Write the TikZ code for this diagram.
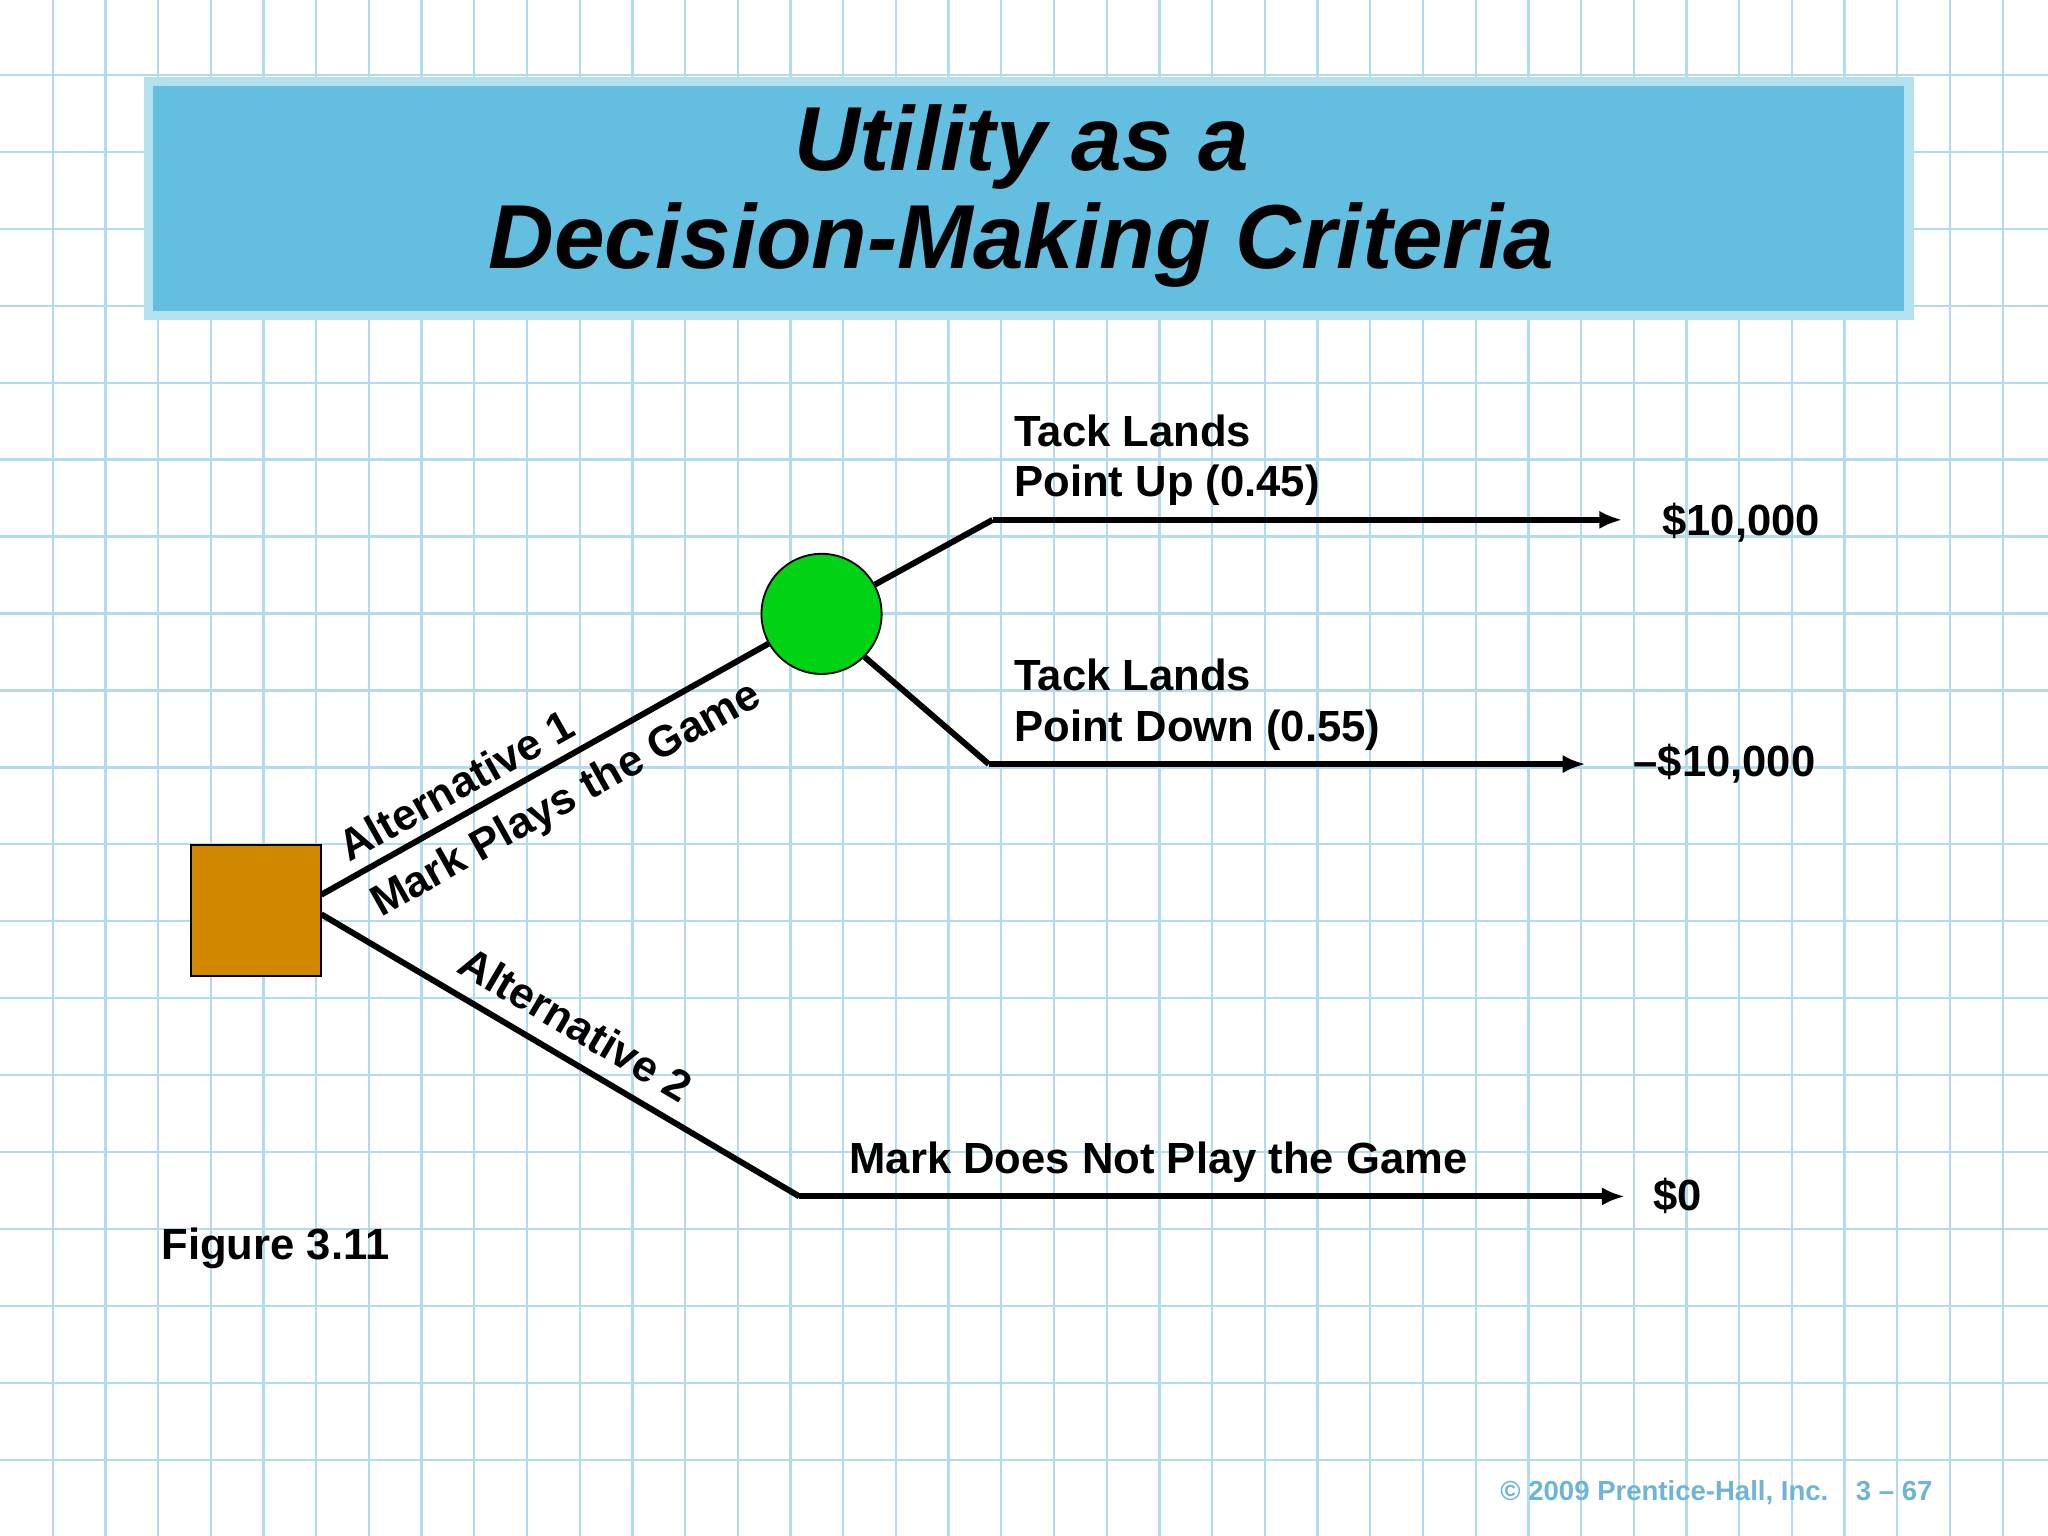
\documentclass[tikz,border=0pt]{standalone}
\usepackage{fontspec}
\setmainfont{Liberation Sans}
\usetikzlibrary{arrows.meta}
\definecolor{gridc}{RGB}{178,220,236}
\definecolor{titlec}{RGB}{99,190,224}
\definecolor{titleb}{RGB}{180,225,240}
\definecolor{boxc}{RGB}{210,135,0}
\definecolor{circc}{RGB}{0,210,20}
\definecolor{footc}{RGB}{110,180,215}
\tikzset{
 branch/.style={line width=1.3pt},
 arr/.style={line width=1.3pt,-{Latex[length=5pt,width=4pt]}},
 lbl/.style={font=\bfseries\fontsize{9.5}{11}\selectfont,inner sep=0pt},
}
\begin{document}
\begin{tikzpicture}[x=0.1mm,y=-0.1mm]
\fill[white] (0,0) rectangle (1568,1176);
\useasboundingbox (0,0) rectangle (1568,1176);
\foreach \i in {1,...,38} {\draw[gridc,line width=0.5pt] (\i*40.35,0) -- (\i*40.35,1176);}
\foreach \i in {1,...,20} {\draw[gridc,line width=0.5pt] (0,-1.5+\i*58.9) -- (1568,-1.5+\i*58.9);}
\node[draw=titleb,line width=2pt,fill=titlec,minimum width=1348*0.1mm,minimum height=179*0.1mm,anchor=north west] (title) at (110,59) {};
\node[font=\bfseries\itshape\fontsize{19.8}{21.5}\selectfont,align=center] (tt) at (782,150) {Utility as a\\Decision-Making Criteria};
\node[draw=black,fill=boxc,minimum size=100*0.1mm,inner sep=0pt] (dec) at (196,697) {};
\node[draw=black,fill=circc,circle,minimum size=92*0.1mm,inner sep=0pt] (ch) at (629,470) {};
\coordinate (u1) at (760,398); \coordinate (u2) at (1242,398);
\coordinate (d1) at (757,585); \coordinate (d2) at (1214,585);
\coordinate (n1) at (612,916); \coordinate (n2) at (1244,916);
\draw[branch] (246,685) -- (ch);
\draw[branch] (ch) -- (u1); \draw[arr] (u1) -- (u2);
\draw[branch] (ch.-45) -- (d1); \draw[arr] (d1) -- (d2);
\draw[branch] (246,700) -- (n1); \draw[arr] (n1) -- (n2);
\node[lbl,rotate=29.3] (a1) at (349,601) {Alternative 1};
\node[lbl,rotate=29.3] (a1b) at (434,613) {Mark Plays the Game};
\node[lbl,rotate=-30.5] (a2) at (441,784) {Alternative 2};
\node[lbl,align=left,anchor=south west] (tu) at (776,388) {Tack Lands\\Point Up (0.45)};
\node[lbl,align=left,anchor=south west] (td) at (776,575) {Tack Lands\\Point Down (0.55)};
\node[lbl,anchor=south] (nd) at (887,906) {Mark Does Not Play the Game};
\node[lbl,anchor=west] (v1) at (1272,400) {\$10,000};
\node[lbl,anchor=west] (v2) at (1250,585) {--\$10,000};
\node[lbl,anchor=west] (v3) at (1265,916) {\$0};
\node[lbl,anchor=west] (fig) at (123,956) {Figure 3.11};
\node[font=\bfseries\fontsize{6}{7}\selectfont,text=footc,anchor=east] (ft) at (1492,1143) {© 2009 Prentice-Hall, Inc.\quad 3 – 67};
\end{tikzpicture}
\end{document}
